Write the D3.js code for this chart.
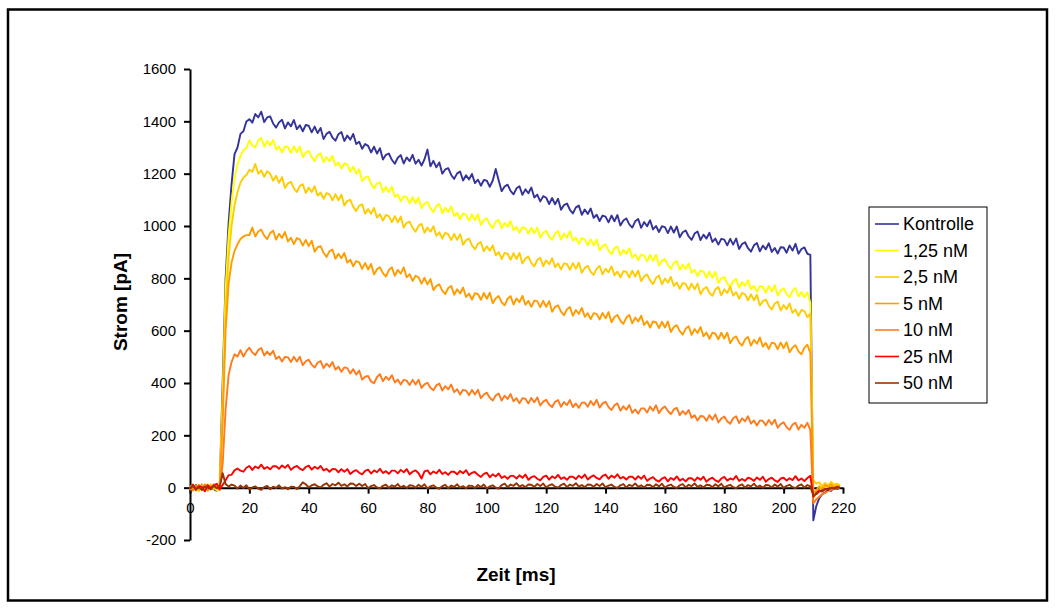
<!DOCTYPE html>
<html><head><meta charset="utf-8">
<script src="https://cdn.jsdelivr.net/npm/d3@7"></script>
<style>
body{margin:0;background:#fff}
svg{display:block}
text{font-family:"Liberation Sans",Arial,sans-serif}
</style>
</head><body>
<svg id="c" width="1056" height="610"></svg>
<script>
const zeit = [0,1,2,3,4,5,6,7,8,9,10,11,12,13,14,15,16,17,18,19,20,21,22,23,24,25,26,27,28,29,30,31,32,33,34,35,36,37,38,39,40,41,42,43,44,45,46,47,48,49,50,51,52,53,54,55,56,57,58,59,60,61,62,63,64,65,66,67,68,69,70,71,72,73,74,75,76,77,78,79,80,81,82,83,84,85,86,87,88,89,90,91,92,93,94,95,96,97,98,99,100,101,102,103,104,105,106,107,108,109,110,111,112,113,114,115,116,117,118,119,120,121,122,123,124,125,126,127,128,129,130,131,132,133,134,135,136,137,138,139,140,141,142,143,144,145,146,147,148,149,150,151,152,153,154,155,156,157,158,159,160,161,162,163,164,165,166,167,168,169,170,171,172,173,174,175,176,177,178,179,180,181,182,183,184,185,186,187,188,189,190,191,192,193,194,195,196,197,198,199,200,201,202,203,204,205,206,207,208,209,210,211,212,213,214,215,216,217,218,219];

const kontrolle = [
5,-8,10,-4,12,-10,3,8,-6,-12,
5,400,800,1010,1160,1275,1300,1352,1362,1399,
1408,1395,1428,1415,1437,1397,1415,1419,1392,1376,
1396,1406,1373,1396,1381,1405,1370,1385,1362,1386,
1383,1358,1380,1355,1375,1332,1352,1360,1338,1326,
1351,1359,1325,1346,1330,1352,1313,1322,1295,1313,
1306,1281,1303,1277,1297,1254,1272,1277,1253,1238,
1261,1271,1239,1262,1248,1272,1238,1253,1231,1255,
1292,1228,1249,1224,1243,1200,1216,1221,1195,1180,
1201,1208,1174,1194,1178,1199,1164,1177,1154,1176,
1173,1150,1174,1218,1174,1133,1151,1158,1134,1121,
1144,1152,1119,1140,1125,1147,1109,1120,1094,1114,
1108,1084,1107,1083,1104,1062,1080,1086,1062,1048,
1071,1078,1043,1063,1046,1067,1031,1043,1019,1040,
1036,1014,1040,1018,1042,1002,1021,1029,1006,994,
1018,1027,993,1015,999,1022,987,1000,977,999,
996,973,998,975,998,957,976,983,960,947,
971,979,946,967,952,974,939,952,929,951,
948,926,951,929,952,912,931,938,915,902,
926,935,903,925,911,934,901,916,895,919,
918,898,926,906,932,894,912,918,894,890,
-125,-70,-40,-25,-18,-8,-12,2,-5,3];

const nM1_25 = [
-6,10,-12,4,8,-9,14,-3,6,-11,
9,350,760,960,1090,1180,1235,1268,1290,1298,
1327,1308,1300,1328,1337,1303,1325,1308,1329,1292,
1304,1281,1304,1302,1280,1305,1282,1304,1263,1281,
1287,1263,1248,1271,1278,1243,1264,1247,1268,1231,
1243,1219,1240,1235,1208,1227,1200,1217,1172,1186,
1189,1161,1143,1163,1167,1130,1149,1130,1150,1111,
1121,1095,1114,1110,1087,1110,1087,1109,1068,1086,
1092,1067,1053,1076,1084,1049,1070,1053,1075,1038,
1051,1026,1048,1043,1020,1045,1022,1045,1004,1023,
1029,1006,992,1016,1024,991,1012,997,1019,984,
997,974,996,992,970,994,972,994,955,974,
982,959,947,971,981,948,971,956,980,944,
956,932,954,949,926,949,926,948,906,924,
930,906,892,915,922,888,909,893,915,879,
892,869,891,888,865,890,867,890,849,868,
874,851,836,859,866,832,852,836,857,821,
833,809,830,826,802,826,802,824,782,800,
805,781,766,789,798,764,786,771,793,758,
772,748,771,767,745,771,750,774,734,754,
762,740,728,753,763,731,748,728,747,707,
-40,-20,-10,8,-5,12,3,15,5,10];

const nM2_5 = [
8,-4,6,-13,10,2,-8,12,-5,7,
-10,300,680,880,1000,1080,1130,1165,1185,1195,
1215,1207,1237,1200,1213,1188,1209,1200,1173,1192,
1165,1187,1145,1163,1169,1144,1130,1153,1160,1126,
1147,1130,1152,1116,1128,1104,1126,1121,1098,1122,
1098,1120,1078,1096,1100,1073,1057,1078,1083,1047,
1065,1047,1069,1032,1045,1021,1042,1038,1014,1038,
1014,1036,994,1012,1017,993,978,1001,1008,974,
994,978,999,963,976,952,974,969,946,970,
947,969,928,946,952,926,911,932,939,903,
923,905,926,888,900,874,897,894,871,896,
874,897,857,876,883,859,846,870,879,846,
869,854,877,843,857,834,857,855,833,858,
837,860,821,840,848,825,813,837,847,815,
837,823,846,812,826,804,827,825,803,829,
807,830,789,808,815,792,778,802,811,777,
799,784,806,771,784,760,782,779,756,780,
758,780,739,759,767,745,733,758,767,735,
758,744,768,734,747,722,744,739,716,739,
716,737,696,713,719,695,681,704,711,677,
698,682,704,668,681,657,679,675,652,665,
30,15,20,5,18,8,22,10,15,8];

const nM5 = [
-10,6,2,11,-7,9,-12,4,10,-3,
6,250,600,780,860,905,930,950,960,965,
965,994,960,979,986,963,950,973,982,948,
970,954,977,941,955,931,954,949,925,947,
923,944,902,919,923,898,882,904,910,875,
894,877,897,860,871,846,866,861,836,859,
834,855,815,835,842,820,807,832,842,810,
832,818,842,804,816,790,810,804,780,802,
777,797,755,771,777,753,740,763,771,737,
758,742,765,729,742,719,743,740,718,744,
722,745,705,724,732,709,697,722,732,700,
723,709,733,699,714,691,715,713,690,714,
691,713,672,691,697,673,659,682,690,657,
679,664,687,653,667,644,667,664,643,668,
647,671,632,652,660,638,626,650,660,628,
650,635,657,622,636,612,635,632,610,634,
612,635,595,614,621,598,585,608,617,584,
606,591,614,579,593,569,592,589,567,592,
570,592,552,571,578,555,543,567,576,543,
565,550,574,539,553,530,554,551,529,555,
533,556,517,536,544,521,510,535,546,514,
-20,-10,5,-8,10,2,12,0,8,5];

const nM10 = [
3,-11,8,-2,-9,12,5,-7,13,0,
-8,90,300,430,480,510,501,526,501,522,
535,517,507,526,534,505,520,507,523,492,
501,482,500,498,480,500,482,500,468,483,
489,470,459,478,484,457,474,462,480,451,
462,443,460,457,436,453,432,448,413,424,
427,406,399,423,434,407,424,412,430,402,
413,394,412,409,392,412,394,412,381,395,
401,382,372,391,398,371,388,376,394,365,
376,356,374,371,353,373,356,374,342,356,
363,344,333,352,360,333,351,339,358,330,
342,323,342,340,322,343,326,345,314,329,
336,318,308,328,335,309,327,316,335,308,
322,305,325,325,309,331,315,336,306,322,
328,308,297,315,322,294,311,298,316,286,
299,283,303,303,287,310,294,315,285,302,
310,293,281,299,305,277,293,280,297,267,
277,257,274,272,256,277,260,280,249,264,
272,254,244,265,273,247,265,254,273,245,
257,238,257,255,238,259,241,260,229,243,
250,231,221,241,248,222,240,229,248,220,
-60,-45,-35,-25,-20,-12,-8,-5,0,-2];

const nM25 = [
-5,12,-9,6,3,-14,10,-2,8,15,
-6,10,28,48,49,66,73,65,61,76,
83,68,81,74,88,72,79,70,82,82,
72,85,76,87,68,78,83,73,67,79,
84,69,80,72,83,66,72,61,72,71,
59,71,61,71,52,62,67,57,51,64,
69,54,66,59,72,56,63,53,65,65,
55,68,59,71,51,61,66,55,35,62,
66,51,62,55,68,52,59,49,61,61,
51,64,55,67,48,57,60,49,41,53,
57,40,51,43,54,37,44,34,45,45,
35,47,38,50,30,40,44,34,28,41,
46,31,43,36,49,33,40,30,42,42,
33,46,37,50,31,41,47,37,32,45,
50,34,46,38,51,35,41,31,42,42,
31,44,34,46,26,35,40,29,23,35,
40,24,37,30,43,27,34,24,36,36,
26,39,30,42,23,33,38,28,22,35,
41,27,35,31,45,26,33,26,38,34,
26,39,30,42,23,33,38,28,22,35,
38,27,36,29,44,28,35,25,37,45,
-35,-20,-10,-15,-5,-8,0,-3,2,0];

const nM50 = [
-3,6,-5,2,-8,4,0,-6,7,-2,
3,55,14,4,12,8,-3,8,-1,9,
-7,1,5,-4,-8,2,7,-6,4,-1,
9,-4,2,-6,4,3,-5,6,20,13,
1,9,13,5,1,11,17,4,14,9,
19,7,13,5,16,15,6,15,6,14,
-2,6,10,1,-3,7,12,-1,9,4,
14,1,7,-1,9,8,0,11,3,13,
-3,5,9,0,-4,6,11,-2,8,3,
13,0,6,-2,8,7,-1,10,2,12,
-3,5,9,0,-4,10,15,2,12,7,
17,4,10,2,12,11,3,14,6,16,
1,9,13,4,0,10,15,2,12,7,
17,4,10,2,12,11,3,14,6,16,
1,8,12,3,-1,9,14,1,11,6,
16,3,9,1,11,10,2,13,5,15,
0,8,12,3,-1,9,14,1,11,6,
16,3,9,1,11,10,2,13,5,15,
0,7,11,2,-2,8,13,0,10,5,
15,2,8,0,10,9,1,12,4,14,
-1,7,11,2,-2,8,13,0,10,5,
-30,-25,-15,-10,-5,-8,0,-4,2,-1];

const serienNamen = ["Kontrolle","1,25 nM","2,5 nM","5 nM","10 nM","25 nM","50 nM"];
const serienWerte = [kontrolle, nM1_25, nM2_5, nM5, nM10, nM25, nM50];
const serienFarben = ["#333399","#ffff00","#ffcc00","#ff9c00","#ff7b1c","#ff0000","#993300"];
const yTicks = [-200,0,200,400,600,800,1000,1200,1400,1600];
const xTicks = [0,20,40,60,80,100,120,140,160,180,200,220];

const svg = d3.select("#c");

// outer border
svg.append("rect").attr("x",8).attr("y",9.5).attr("width",1039).attr("height",591)
  .attr("fill","none").attr("stroke","#000").attr("stroke-width",2.5);

const x = d3.scaleLinear().domain([0,220]).range([190,843]);
const y = d3.scaleLinear().domain([-200,1600]).range([540,69]);

// y axis
const yAxis = svg.append("g").attr("transform","translate(190,0)")
  .call(d3.axisLeft(y).tickValues(yTicks).tickSize(6).tickSizeOuter(0).tickPadding(8).tickFormat(d=>String(d)));
// x axis
const xAxis = svg.append("g").attr("transform",`translate(0,${y(0)})`)
  .call(d3.axisBottom(x).tickValues(xTicks).tickSize(6).tickSizeOuter(0).tickPadding(9).tickFormat(d=>String(d)));

[yAxis,xAxis].forEach(a=>{
  a.select(".domain").attr("stroke","#000").attr("stroke-width",2);
  a.selectAll(".tick line").attr("stroke","#000").attr("stroke-width",2);
  a.selectAll(".tick text").attr("fill","#000").style("font-size","15px").style("font-family","'Liberation Sans',Arial,sans-serif");
});

// series
const line = d3.line().x((d,i)=>x(zeit[i])).y(d=>y(d));
serienWerte.forEach((w,k)=>{
  svg.append("path").datum(w).attr("d",line)
    .attr("fill","none").attr("stroke",serienFarben[k]).attr("stroke-width",1.9)
    .attr("stroke-linejoin","round");
});

// axis titles
svg.append("text").attr("transform","translate(120,302) rotate(-90)")
  .attr("text-anchor","middle").attr("dominant-baseline","central")
  .style("font-size","19px").style("font-weight","bold").text("Strom [pA]");
svg.append("text").attr("x",516).attr("y",574)
  .attr("text-anchor","middle").attr("dominant-baseline","central")
  .style("font-size","19px").style("font-weight","bold").text("Zeit [ms]");

// legend
const lg = svg.append("g");
lg.append("rect").attr("x",869).attr("y",207).attr("width",118).attr("height",196)
  .attr("fill","#fff").attr("stroke","#000").attr("stroke-width",1);
serienNamen.forEach((n,k)=>{
  const yy = 224 + k*26.5;
  lg.append("line").attr("x1",875).attr("x2",899).attr("y1",yy).attr("y2",yy)
    .attr("stroke",serienFarben[k]).attr("stroke-width",1.6);
  lg.append("text").attr("x",903).attr("y",yy).attr("dominant-baseline","central")
    .style("font-size","18px").text(n);
});
</script>
</body></html>
